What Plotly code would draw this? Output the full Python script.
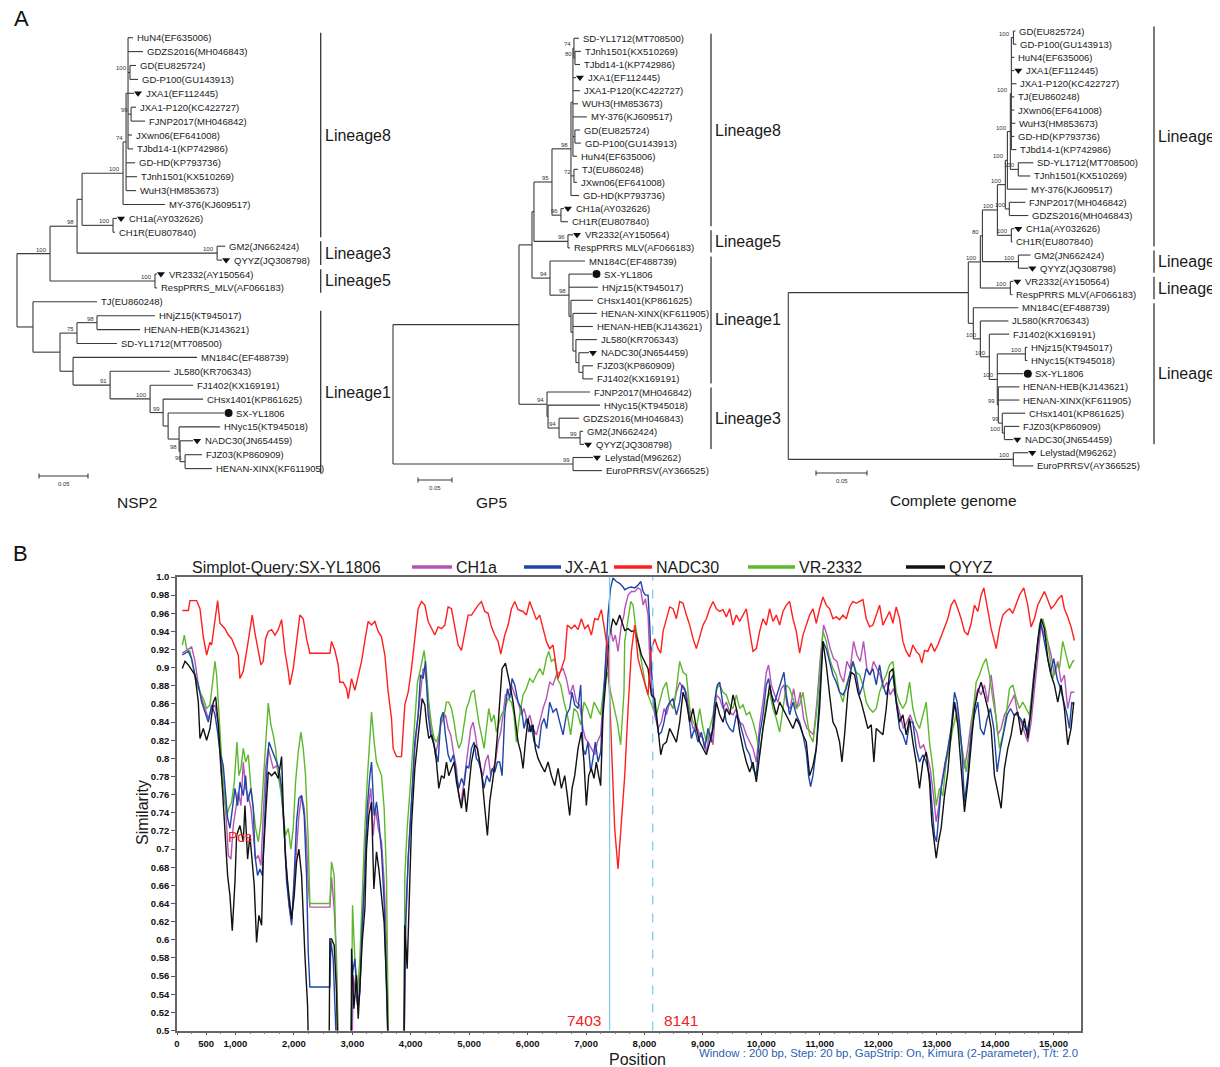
import plotly.graph_objects as go

# page body has an 8px margin: figure is shifted by OFF, so sizes/positions compensate
OFF = 8
FW, FH = 1212, 1059
FONT = "Liberation Sans, Arial, Helvetica, sans-serif"


def PX(x):
    return (x - OFF) / FW


def PY(y):
    return 1 - (y - OFF) / FH


# ======================= Panel B: similarity plot data =======================
# (position bp, similarity)
CH1A = [(91,0.916),(137,0.918),(194,0.921),(251,0.923),(308,0.907),(365,0.881),(422,0.866),(479,0.855),(536,0.844),(593,0.855),
(650,0.859),(707,0.837),(752,0.785),(792,0.763),(832,0.745),(878,0.693),(923,0.689),(963,0.726),(1003,0.745),(1049,0.763),
(1094,0.748),(1134,0.796),(1174,0.767),(1220,0.759),(1265,0.745),(1305,0.715),(1345,0.689),(1391,0.693),(1436,0.682),(1476,0.737),
(1516,0.789),(1562,0.811),(1607,0.800),(1647,0.789),(1704,0.792),(1744,0.781),(1790,0.763),(1835,0.715),(1875,0.671),(1915,0.638),
(1961,0.619),(2006,0.664),(2046,0.708),(2086,0.737),(2132,0.759),(2177,0.745),(2217,0.708),(2246,0.660),(2274,0.636),(2616,0.636),
(2645,0.669),(2690,0.634),(2730,0.579),(2770,0.45),(2990,0.45),(3015,0.561),(3055,0.542),(3101,0.524),(3146,0.579),(3186,0.634),
(3226,0.708),(3272,0.745),(3317,0.767),(3357,0.715),(3397,0.745),(3443,0.723),(3500,0.708),(3545,0.664),(3585,0.597),(3625,0.45),
(3880,0.45),(3916,0.616),(3956,0.689),(4013,0.752),(4070,0.811),(4127,0.848),(4172,0.873),(4212,0.899),(4252,0.895),(4298,0.862),
(4343,0.833),(4383,0.822),(4423,0.804),(4469,0.818),(4514,0.837),(4554,0.844),(4594,0.848),(4640,0.833),(4685,0.826),(4731,0.807),
(4782,0.789),(4822,0.759),(4856,0.748),(4896,0.767),(4936,0.789),(4982,0.811),(5027,0.833),(5067,0.840),(5107,0.826),(5153,0.804),
(5198,0.789),(5238,0.781),(5278,0.796),(5324,0.804),(5369,0.781),(5409,0.789),(5449,0.796),(5495,0.818),(5540,0.829),(5580,0.848),
(5620,0.870),(5666,0.873),(5723,0.881),(5780,0.870),(5837,0.862),(5894,0.848),(5939,0.855),(5996,0.840),(6036,0.848),(6093,0.833),
(6150,0.826),(6207,0.840),(6264,0.855),(6321,0.866),(6378,0.884),(6435,0.881),(6492,0.892),(6549,0.895),(6606,0.899),(6663,0.888),
(6720,0.870),(6777,0.881),(6834,0.862),(6891,0.859),(6948,0.833),(6988,0.822),(7034,0.818),(7091,0.811),(7148,0.804),(7193,0.818),
(7250,0.826),(7290,0.862),(7330,0.899),(7376,0.929),(7421,0.943),(7461,0.929),(7501,0.936),(7547,0.918),(7604,0.947),(7649,0.958),
(7662,0.965),(7719,0.980),(7776,0.984),(7833,0.984),(7890,0.988),(7936,0.986),(7976,0.969),(8015,0.976),(8061,0.958),(8090,0.910),
(8129,0.870),(8175,0.848),(8232,0.833),(8289,0.840),(8335,0.855),(8375,0.848),(8432,0.862),(8489,0.855),(8546,0.873),(8603,0.884),
(8660,0.877),(8717,0.873),(8774,0.848),(8831,0.833),(8888,0.837),(8945,0.826),(9002,0.822),(9059,0.807),(9116,0.829),(9173,0.815),
(9230,0.870),(9287,0.866),(9344,0.855),(9401,0.862),(9458,0.851),(9515,0.848),(9572,0.855),(9629,0.840),(9686,0.837),(9743,0.826),
(9800,0.818),(9857,0.811),(9914,0.796),(9971,0.837),(10028,0.862),(10085,0.895),(10124,0.903),(10170,0.881),(10227,0.870),(10284,0.862),
(10341,0.877),(10387,0.881),(10439,0.859),(10495,0.855),(10552,0.877),(10609,0.855),(10666,0.873),(10723,0.844),(10780,0.833),(10837,0.829),
(10894,0.826),(10951,0.862),(11008,0.910),(11065,0.947),(11122,0.936),(11179,0.921),(11236,0.910),(11293,0.907),(11350,0.892),(11407,0.884),
(11464,0.907),(11521,0.899),(11578,0.929),(11635,0.914),(11692,0.907),(11749,0.929),(11806,0.899),(11863,0.892),(11920,0.907),(11977,0.899),
(12034,0.892),(12091,0.877),(12148,0.884),(12205,0.870),(12262,0.877),(12319,0.862),(12376,0.848),(12433,0.833),(12490,0.840),(12547,0.848),
(12604,0.837),(12661,0.829),(12718,0.811),(12775,0.815),(12832,0.804),(12889,0.789),(12946,0.759),(12992,0.730),(13031,0.745),(13088,0.774),
(13145,0.796),(13202,0.811),(13259,0.837),(13305,0.862),(13362,0.848),(13419,0.818),(13476,0.789),(13533,0.811),(13590,0.840),(13647,0.862),
(13704,0.877),(13761,0.870),(13818,0.881),(13875,0.862),(13932,0.892),(13989,0.862),(14046,0.826),(14103,0.833),(14160,0.848),(14217,0.855),
(14274,0.862),(14331,0.870),(14388,0.848),(14445,0.840),(14502,0.829),(14559,0.818),(14616,0.840),(14673,0.877),(14730,0.918),(14787,0.947),
(14844,0.936),(14901,0.929),(14958,0.914),(15015,0.892),(15072,0.907),(15129,0.884),(15186,0.892),(15243,0.855),(15300,0.873),(15357,0.873)]

JXA1 = [(91,0.914),(137,0.916),(194,0.918),(251,0.910),(308,0.892),(365,0.881),(422,0.862),(479,0.851),(536,0.840),(593,0.859),
(650,0.848),(695,0.829),(735,0.807),(792,0.792),(832,0.763),(866,0.734),(906,0.723),(946,0.745),(992,0.767),(1037,0.748),
(1077,0.774),(1134,0.759),(1174,0.781),(1208,0.752),(1265,0.767),(1305,0.745),(1334,0.693),(1379,0.671),(1419,0.678),(1459,0.671),
(1493,0.723),(1533,0.781),(1573,0.818),(1619,0.811),(1664,0.804),(1704,0.796),(1744,0.789),(1790,0.767),(1835,0.723),(1875,0.664),
(1915,0.641),(1961,0.616),(2006,0.671),(2046,0.730),(2086,0.756),(2132,0.759),(2177,0.737),(2217,0.671),(2246,0.586),(2274,0.548),
(2616,0.548),(2633,0.599),(2673,0.579),(2702,0.524),(2747,0.45),(2970,0.45),(2998,0.561),(3044,0.579),(3089,0.528),(3129,0.542),
(3169,0.616),(3215,0.671),(3255,0.745),(3300,0.781),(3329,0.796),(3374,0.737),(3414,0.752),(3454,0.730),(3500,0.697),(3545,0.641),
(3585,0.561),(3625,0.45),(3880,0.45),(3910,0.616),(3956,0.689),(4013,0.756),(4070,0.818),(4127,0.848),(4166,0.892),(4212,0.888),
(4252,0.907),(4298,0.848),(4343,0.826),(4383,0.818),(4423,0.807),(4469,0.796),(4514,0.844),(4554,0.851),(4594,0.826),(4640,0.804),
(4685,0.796),(4731,0.804),(4782,0.781),(4822,0.767),(4868,0.778),(4913,0.770),(4953,0.792),(4993,0.789),(5039,0.811),(5084,0.818),
(5124,0.800),(5164,0.796),(5210,0.785),(5255,0.767),(5301,0.781),(5352,0.774),(5392,0.789),(5438,0.785),(5483,0.796),(5523,0.796),
(5563,0.781),(5609,0.848),(5654,0.877),(5694,0.866),(5734,0.888),(5780,0.881),(5837,0.862),(5894,0.855),(5939,0.833),(5979,0.844),
(6019,0.829),(6065,0.837),(6110,0.818),(6150,0.815),(6190,0.811),(6236,0.837),(6281,0.844),(6327,0.833),(6378,0.862),(6435,0.851),
(6492,0.855),(6549,0.840),(6606,0.826),(6663,0.848),(6720,0.855),(6760,0.873),(6806,0.859),(6863,0.855),(6908,0.881),(6948,0.811),
(6988,0.804),(7034,0.818),(7079,0.785),(7119,0.800),(7159,0.818),(7205,0.796),(7250,0.807),(7290,0.855),(7330,0.910),(7376,0.958),
(7421,0.988),(7461,0.999),(7518,0.995),(7575,0.993),(7632,0.989),(7662,0.986),(7719,0.988),(7776,0.989),(7833,0.988),(7890,0.991),
(7936,0.995),(7976,0.984),(8015,0.980),(8061,0.980),(8090,0.947),(8118,0.899),(8164,0.862),(8204,0.844),(8243,0.826),(8289,0.829),
(8335,0.840),(8375,0.855),(8432,0.862),(8489,0.866),(8546,0.848),(8603,0.862),(8642,0.881),(8688,0.877),(8745,0.855),(8802,0.822),
(8859,0.833),(8916,0.818),(8973,0.829),(9030,0.811),(9087,0.833),(9144,0.818),(9201,0.862),(9247,0.881),(9287,0.884),(9344,0.859),
(9401,0.840),(9458,0.833),(9515,0.829),(9572,0.848),(9629,0.840),(9686,0.826),(9743,0.811),(9800,0.804),(9857,0.789),(9914,0.781),
(9971,0.826),(10028,0.848),(10085,0.881),(10124,0.888),(10170,0.870),(10227,0.862),(10284,0.873),(10341,0.884),(10387,0.895),(10427,0.870),
(10484,0.848),(10541,0.862),(10598,0.848),(10655,0.840),(10712,0.826),(10769,0.807),(10808,0.781),(10843,0.769),(10883,0.781),(10940,0.811),
(10997,0.873),(11054,0.929),(11111,0.921),(11168,0.907),(11225,0.892),(11282,0.884),(11339,0.873),(11396,0.870),(11453,0.877),(11510,0.892),
(11567,0.907),(11624,0.892),(11681,0.870),(11738,0.881),(11795,0.899),(11852,0.892),(11909,0.899),(11966,0.881),(12023,0.903),(12080,0.881),
(12137,0.870),(12194,0.884),(12251,0.892),(12308,0.862),(12365,0.833),(12422,0.826),(12479,0.815),(12536,0.840),(12593,0.840),(12650,0.811),
(12707,0.796),(12764,0.804),(12821,0.796),(12878,0.781),(12917,0.752),(12963,0.715),(12997,0.708),(13037,0.737),(13077,0.767),(13134,0.789),
(13191,0.811),(13248,0.833),(13305,0.873),(13350,0.862),(13390,0.840),(13430,0.811),(13476,0.752),(13533,0.781),(13590,0.826),(13647,0.848),
(13704,0.862),(13749,0.833),(13807,0.826),(13864,0.844),(13920,0.855),(13978,0.833),(14035,0.785),(14092,0.811),(14149,0.829),(14206,0.848),
(14263,0.855),(14320,0.848),(14377,0.848),(14434,0.844),(14491,0.837),(14548,0.829),(14605,0.848),(14662,0.892),(14719,0.921),(14776,0.951),
(14833,0.932),(14890,0.914),(14947,0.895),(15004,0.910),(15061,0.888),(15118,0.877),(15175,0.862),(15232,0.848),(15272,0.833),(15312,0.862),
(15346,0.859)]

NADC30 = [(91,0.963),(194,0.963),(222,0.974),(336,0.974),(393,0.965),(450,0.934),(507,0.914),(564,0.928),(593,0.925),(650,0.954),
(695,0.974),(735,0.949),(821,0.943),(878,0.936),(935,0.932),(992,0.923),(1049,0.914),(1077,0.888),(1134,0.896),(1191,0.918),
(1248,0.940),(1288,0.958),(1334,0.938),(1391,0.916),(1436,0.903),(1476,0.907),(1516,0.932),(1562,0.940),(1619,0.942),(1676,0.936),
(1733,0.942),(1790,0.953),(1847,0.918),(1904,0.896),(1932,0.881),(1989,0.899),(2046,0.929),(2103,0.958),(2160,0.954),(2217,0.932),
(2274,0.916),(2616,0.916),(2645,0.929),(2702,0.919),(2759,0.903),(2787,0.884),(2844,0.884),(2901,0.877),(2930,0.866),(2987,0.888),
(3044,0.875),(3101,0.892),(3158,0.907),(3215,0.930),(3272,0.951),(3329,0.947),(3386,0.951),(3443,0.940),(3500,0.934),(3557,0.914),
(3614,0.873),(3671,0.844),(3699,0.811),(3756,0.802),(3842,0.802),(3899,0.859),(3956,0.873),(4013,0.899),(4070,0.932),(4127,0.965),
(4184,0.973),(4241,0.969),(4298,0.951),(4355,0.943),(4412,0.936),(4469,0.945),(4526,0.943),(4583,0.947),(4640,0.967),(4697,0.965),
(4754,0.943),(4811,0.925),(4868,0.919),(4925,0.940),(4982,0.958),(5039,0.958),(5096,0.964),(5153,0.969),(5210,0.973),(5267,0.962),
(5324,0.960),(5381,0.945),(5438,0.936),(5495,0.929),(5540,0.915),(5609,0.936),(5666,0.947),(5723,0.965),(5780,0.973),(5837,0.964),
(5922,0.962),(5979,0.958),(6036,0.973),(6093,0.962),(6150,0.953),(6207,0.958),(6264,0.943),(6321,0.929),(6378,0.921),(6435,0.925),
(6475,0.907),(6521,0.888),(6578,0.899),(6635,0.910),(6680,0.947),(6749,0.943),(6806,0.947),(6863,0.942),(6920,0.954),(6977,0.943),
(7034,0.947),(7091,0.936),(7148,0.954),(7205,0.953),(7262,0.964),(7307,0.947),(7376,0.918),(7433,0.818),(7490,0.723),(7547,0.678),
(7604,0.726),(7662,0.781),(7719,0.855),(7776,0.918),(7833,0.947),(7890,0.910),(7947,0.896),(8004,0.884),(8061,0.870),(8107,0.918),
(8147,0.925),(8175,0.932),(8232,0.921),(8278,0.916),(8318,0.940),(8375,0.954),(8432,0.967),(8489,0.965),(8546,0.954),(8603,0.973),
(8660,0.971),(8717,0.958),(8774,0.947),(8831,0.932),(8888,0.921),(8945,0.934),(9002,0.947),(9059,0.954),(9116,0.965),(9173,0.973),
(9230,0.965),(9287,0.962),(9344,0.964),(9401,0.956),(9458,0.965),(9515,0.947),(9572,0.958),(9629,0.951),(9686,0.958),(9743,0.965),
(9800,0.940),(9857,0.918),(9914,0.921),(9971,0.940),(10028,0.954),(10085,0.947),(10142,0.965),(10199,0.951),(10256,0.958),(10313,0.947),
(10370,0.962),(10427,0.969),(10484,0.973),(10541,0.954),(10598,0.940),(10655,0.916),(10712,0.936),(10769,0.947),(10826,0.958),(10883,0.965),
(10940,0.949),(10997,0.965),(11054,0.978),(11111,0.969),(11168,0.965),(11225,0.954),(11282,0.956),(11339,0.953),(11396,0.958),(11453,0.954),
(11510,0.967),(11567,0.973),(11624,0.971),(11681,0.973),(11738,0.975),(11795,0.954),(11852,0.945),(11909,0.947),(11966,0.958),(12023,0.969),
(12080,0.947),(12137,0.954),(12194,0.962),(12251,0.949),(12308,0.967),(12365,0.954),(12422,0.929),(12479,0.918),(12536,0.912),(12593,0.925),
(12650,0.918),(12707,0.914),(12746,0.905),(12792,0.919),(12849,0.918),(12906,0.927),(12963,0.918),(13020,0.925),(13077,0.934),(13134,0.945),
(13191,0.954),(13248,0.969),(13305,0.975),(13362,0.965),(13419,0.954),(13476,0.940),(13533,0.936),(13590,0.949),(13647,0.969),(13704,0.962),
(13761,0.980),(13807,0.988),(13864,0.969),(13932,0.943),(13989,0.929),(14018,0.921),(14075,0.943),(14132,0.958),(14189,0.962),(14246,0.965),
(14303,0.960),(14360,0.969),(14417,0.980),(14491,0.988),(14559,0.969),(14616,0.945),(14673,0.954),(14730,0.969),(14787,0.976),(14844,0.984),
(14901,0.975),(14958,0.965),(15015,0.969),(15072,0.975),(15140,0.980),(15186,0.965),(15243,0.956),(15300,0.945),(15357,0.930)]

VR2332 = [(91,0.925),(125,0.936),(165,0.921),(222,0.918),(279,0.899),(336,0.881),(393,0.873),(450,0.866),(507,0.855),(564,0.859),
(604,0.881),(650,0.907),(678,0.892),(718,0.848),(764,0.800),(809,0.763),(849,0.737),(889,0.745),(935,0.752),(980,0.774),
(1026,0.818),(1060,0.781),(1094,0.789),(1134,0.811),(1174,0.796),(1220,0.804),(1265,0.767),(1305,0.745),(1345,0.723),(1391,0.708),
(1436,0.730),(1476,0.774),(1516,0.811),(1562,0.861),(1607,0.837),(1647,0.826),(1687,0.811),(1733,0.781),(1778,0.763),(1818,0.737),
(1858,0.715),(1904,0.723),(1949,0.700),(1989,0.723),(2029,0.774),(2075,0.807),(2120,0.829),(2160,0.811),(2200,0.781),(2246,0.708),
(2274,0.640),(2616,0.640),(2645,0.686),(2690,0.671),(2730,0.579),(2770,0.45),(2975,0.45),(3004,0.638),(3044,0.579),(3089,0.542),
(3129,0.579),(3169,0.652),(3215,0.723),(3260,0.781),(3300,0.818),(3329,0.851),(3374,0.818),(3414,0.796),(3454,0.789),(3500,0.781),
(3545,0.745),(3585,0.671),(3625,0.45),(3880,0.45),(3899,0.671),(3939,0.723),(3985,0.763),(4024,0.800),(4070,0.837),(4115,0.884),
(4155,0.895),(4195,0.907),(4229,0.919),(4269,0.895),(4309,0.862),(4355,0.837),(4400,0.822),(4440,0.818),(4480,0.826),(4526,0.844),
(4571,0.848),(4611,0.862),(4651,0.862),(4697,0.855),(4742,0.840),(4782,0.822),(4822,0.811),(4868,0.818),(4913,0.840),(4953,0.855),
(4993,0.862),(5039,0.873),(5084,0.875),(5124,0.855),(5164,0.840),(5210,0.826),(5255,0.811),(5295,0.833),(5335,0.855),(5381,0.840),
(5426,0.848),(5466,0.829),(5506,0.837),(5552,0.848),(5609,0.855),(5666,0.866),(5723,0.862),(5768,0.848),(5808,0.818),(5865,0.848),
(5922,0.870),(5979,0.877),(6036,0.888),(6093,0.884),(6150,0.892),(6207,0.899),(6264,0.892),(6321,0.910),(6361,0.918),(6407,0.907),
(6464,0.910),(6509,0.888),(6566,0.881),(6623,0.862),(6680,0.848),(6737,0.826),(6794,0.855),(6851,0.851),(6908,0.837),(6965,0.862),
(7022,0.855),(7079,0.844),(7136,0.862),(7193,0.855),(7250,0.848),(7307,0.881),(7364,0.895),(7421,0.873),(7478,0.855),(7535,0.840),
(7592,0.815),(7649,0.873),(7662,0.929),(7719,0.954),(7765,0.973),(7805,0.969),(7844,0.947),(7890,0.929),(7936,0.910),(7976,0.892),
(8015,0.881),(8061,0.870),(8107,0.862),(8147,0.855),(8204,0.848),(8261,0.862),(8318,0.877),(8375,0.884),(8432,0.862),(8489,0.855),
(8546,0.877),(8603,0.907),(8660,0.895),(8717,0.892),(8774,0.855),(8831,0.840),(8888,0.833),(8945,0.855),(9002,0.833),(9059,0.818),
(9116,0.833),(9173,0.848),(9230,0.877),(9287,0.881),(9344,0.873),(9401,0.870),(9458,0.859),(9515,0.855),(9572,0.870),(9629,0.855),
(9686,0.859),(9743,0.848),(9800,0.851),(9857,0.840),(9914,0.826),(9971,0.804),(10028,0.833),(10085,0.862),(10142,0.873),(10199,0.855),
(10256,0.844),(10313,0.829),(10370,0.855),(10427,0.881),(10484,0.877),(10541,0.866),(10598,0.855),(10655,0.859),(10712,0.873),(10769,0.848),
(10826,0.826),(10883,0.818),(10940,0.848),(10997,0.892),(11054,0.940),(11111,0.929),(11168,0.910),(11225,0.899),(11282,0.892),(11339,0.873),
(11396,0.862),(11453,0.881),(11510,0.892),(11567,0.907),(11624,0.895),(11681,0.892),(11738,0.881),(11795,0.862),(11852,0.855),(11909,0.851),
(11966,0.855),(12023,0.873),(12080,0.884),(12137,0.892),(12194,0.903),(12251,0.907),(12308,0.873),(12365,0.862),(12422,0.855),(12479,0.862),
(12536,0.884),(12593,0.855),(12650,0.840),(12707,0.833),(12764,0.848),(12821,0.862),(12878,0.818),(12935,0.789),(12992,0.748),(13048,0.767),
(13105,0.759),(13162,0.796),(13219,0.811),(13276,0.833),(13333,0.848),(13390,0.826),(13447,0.804),(13504,0.785),(13561,0.811),(13618,0.848),
(13675,0.884),(13732,0.892),(13789,0.903),(13846,0.910),(13903,0.892),(13960,0.866),(14018,0.844),(14075,0.811),(14132,0.826),(14189,0.848),
(14246,0.877),(14303,0.881),(14360,0.866),(14417,0.855),(14474,0.862),(14531,0.855),(14588,0.848),(14645,0.881),(14702,0.914),(14759,0.947),
(14816,0.954),(14873,0.940),(14930,0.914),(14987,0.888),(15044,0.903),(15101,0.899),(15158,0.929),(15215,0.914),(15272,0.899),(15329,0.907),
(15357,0.908)]

QYYZ = [(91,0.899),(137,0.907),(194,0.903),(251,0.897),(308,0.892),(365,0.862),(393,0.822),(450,0.833),(507,0.820),(564,0.833),
(621,0.862),(661,0.868),(707,0.837),(764,0.781),(821,0.715),(866,0.671),(906,0.649),(946,0.610),(992,0.664),(1020,0.715),
(1077,0.726),(1134,0.708),(1163,0.748),(1208,0.689),(1248,0.715),(1288,0.682),(1322,0.660),(1362,0.597),(1402,0.627),(1448,0.616),
(1476,0.689),(1516,0.737),(1562,0.785),(1619,0.781),(1676,0.785),(1733,0.778),(1790,0.802),(1818,0.745),(1858,0.689),(1904,0.656),
(1961,0.623),(2006,0.649),(2046,0.686),(2086,0.700),(2132,0.671),(2189,0.583),(2234,0.528),(2260,0.45),(2600,0.45),(2616,0.601),
(2645,0.601),(2690,0.594),(2730,0.542),(2759,0.45),(2980,0.45),(2987,0.590),(3027,0.524),(3072,0.561),(3101,0.513),(3129,0.546),
(3169,0.597),(3215,0.634),(3243,0.700),(3283,0.737),(3329,0.752),(3369,0.656),(3414,0.697),(3454,0.678),(3500,0.649),(3545,0.619),
(3591,0.542),(3625,0.45),(3880,0.45),(3899,0.616),(3939,0.568),(3973,0.652),(4013,0.726),(4070,0.789),(4115,0.818),(4155,0.848),
(4195,0.866),(4241,0.859),(4269,0.840),(4309,0.822),(4355,0.826),(4400,0.815),(4440,0.796),(4480,0.767),(4526,0.781),(4571,0.778),
(4611,0.796),(4651,0.781),(4697,0.789),(4742,0.796),(4782,0.774),(4822,0.759),(4868,0.745),(4913,0.767),(4953,0.741),(4993,0.767),
(5039,0.796),(5096,0.815),(5141,0.811),(5181,0.796),(5221,0.778),(5267,0.745),(5312,0.715),(5352,0.752),(5392,0.770),(5438,0.792),
(5483,0.826),(5523,0.866),(5563,0.899),(5620,0.905),(5666,0.892),(5711,0.877),(5751,0.862),(5791,0.844),(5837,0.818),(5882,0.807),
(5922,0.789),(5962,0.818),(6008,0.844),(6053,0.829),(6093,0.837),(6133,0.811),(6179,0.800),(6236,0.792),(6293,0.785),(6350,0.796),
(6407,0.781),(6464,0.770),(6521,0.789),(6578,0.767),(6635,0.781),(6680,0.759),(6720,0.737),(6760,0.767),(6806,0.781),(6863,0.811),
(6920,0.829),(6965,0.796),(7005,0.748),(7045,0.781),(7091,0.789),(7136,0.778),(7176,0.796),(7216,0.781),(7250,0.770),(7290,0.848),
(7347,0.892),(7404,0.936),(7461,0.954),(7518,0.947),(7575,0.958),(7632,0.947),(7662,0.941),(7719,0.943),(7776,0.940),(7833,0.941),
(7890,0.929),(7947,0.914),(8004,0.907),(8061,0.899),(8118,0.870),(8175,0.866),(8232,0.833),(8278,0.804),(8318,0.815),(8375,0.818),
(8432,0.833),(8489,0.826),(8546,0.818),(8603,0.840),(8660,0.873),(8717,0.862),(8774,0.840),(8831,0.855),(8888,0.833),(8945,0.818),
(9002,0.811),(9059,0.804),(9116,0.818),(9173,0.833),(9230,0.862),(9287,0.848),(9344,0.840),(9401,0.855),(9458,0.848),(9515,0.870),
(9572,0.855),(9629,0.829),(9686,0.811),(9743,0.796),(9800,0.785),(9857,0.796),(9914,0.774),(9971,0.804),(10028,0.833),(10085,0.855),
(10142,0.881),(10199,0.862),(10256,0.848),(10313,0.862),(10370,0.855),(10427,0.848),(10484,0.840),(10541,0.833),(10598,0.844),(10655,0.837),
(10712,0.826),(10769,0.818),(10826,0.781),(10883,0.792),(10940,0.811),(10997,0.855),(11054,0.929),(11111,0.903),(11168,0.870),(11225,0.840),
(11282,0.833),(11339,0.818),(11379,0.796),(11424,0.826),(11481,0.873),(11538,0.895),(11595,0.892),(11652,0.873),(11709,0.862),(11766,0.848),
(11823,0.833),(11880,0.837),(11926,0.796),(11966,0.833),(12023,0.829),(12080,0.826),(12137,0.855),(12194,0.895),(12251,0.899),(12308,0.862),
(12365,0.840),(12422,0.848),(12479,0.826),(12536,0.844),(12593,0.818),(12650,0.796),(12707,0.767),(12764,0.796),(12821,0.807),(12878,0.774),
(12917,0.730),(12963,0.708),(12992,0.690),(13031,0.708),(13077,0.723),(13134,0.759),(13191,0.785),(13248,0.829),(13305,0.862),(13362,0.837),
(13419,0.789),(13476,0.741),(13533,0.774),(13590,0.811),(13647,0.855),(13704,0.873),(13761,0.884),(13818,0.870),(13875,0.855),(13932,0.833),
(13989,0.781),(14046,0.763),(14103,0.745),(14160,0.789),(14217,0.811),(14274,0.826),(14331,0.848),(14388,0.851),(14445,0.826),(14502,0.844),
(14559,0.822),(14616,0.855),(14673,0.892),(14730,0.929),(14787,0.954),(14844,0.943),(14901,0.910),(14958,0.892),(15015,0.881),(15072,0.862),
(15129,0.881),(15186,0.855),(15243,0.815),(15300,0.833),(15346,0.862)]

SERIES = [("CH1a", CH1A, "#b653b8"), ("VR-2332", VR2332, "#5cb82c"), ("JX-A1", JXA1, "#1f45a8"),
          ("QYYZ", QYYZ, "#111111"), ("NADC30", NADC30, "#ff1f1f")]
BREAKPOINTS = [7403, 8141]
Y_TICKVALS = [0.5, 0.52, 0.54, 0.56, 0.58, 0.6, 0.62, 0.64, 0.66, 0.68, 0.7, 0.72, 0.74, 0.76, 0.78,
              0.8, 0.82, 0.84, 0.86, 0.88, 0.9, 0.92, 0.94, 0.96, 0.98, 1.0]
Y_TICKTEXT = ["0.5", "0.52", "0.54", "0.56", "0.58", "0.6", "0.62", "0.64", "0.66", "0.68", "0.7", "0.72", "0.74",
              "0.76", "0.78", "0.8", "0.82", "0.84", "0.86", "0.88", "0.9", "0.92", "0.94", "0.96", "0.98", "1.0"]
X_TICKVALS = [0, 500, 1000, 2000, 3000, 4000, 5000, 6000, 7000, 8000, 9000, 10000, 11000, 12000, 13000, 14000, 15000]
X_TICKTEXT = ["0", "500", "1,000", "2,000", "3,000", "4,000", "5,000", "6,000", "7,000", "8,000", "9,000",
              "10,000", "11,000", "12,000", "13,000", "14,000", "15,000"]

# ======================= Panel A: trees (branch lengths, substitutions/site) =======================
def L(name, length, mark=""):
    return {"name": name, "len": length, "mark": mark, "kids": None, "bs": ""}


def N(length, bs, *kids):
    return {"name": "", "len": length, "mark": "", "kids": list(kids), "bs": bs}


# ---- NSP2 ----
NSP2_L8_CORE = N(0.0020, "",
                 L("HuN4(EF635006)", 0.0051),
                 L("GDZS2016(MH046843)", 0.0153),
                 N(0.0020, "100", L("GD(EU825724)", 0.0061), L("GD-P100(GU143913)", 0.0082)),
                 L("JXA1(EF112445)", 0.0061, "tri"),
                 N(0.0031, "99", L("JXA1-P120(KC422727)", 0.0051), L("FJNP2017(MH046842)", 0.0143)),
                 L("JXwn06(EF641008)", 0.0041),
                 L("TJbd14-1(KP742986)", 0.0051))
NSP2_L8_74 = N(0.0031, "74", NSP2_L8_CORE,
               L("GD-HD(KP793736)", 0.0092),
               L("TJnh1501(KX510269)", 0.0112),
               L("WuH3(HM853673)", 0.0102))
NSP2_L8 = N(0.0418, "100", NSP2_L8_74, L("MY-376(KJ609517)", 0.0429))
NSP2_CH1 = N(0.0316, "100", L("CH1a(AY032626)", 0.0041, "tri"), L("CH1R(EU807840)", 0.0020))
NSP2_L3 = N(0.1429, "100", L("GM2(JN662424)", 0.0082), L("QYYZ(JQ308798)", 0.0051, "tri"))
NSP2_L5 = N(0.1071, "100", L("VR2332(AY150564)", 0.0020, "tri"), L("RespPRRS_MLV(AF066183)", 0.0020))
NSP2_98 = N(0.0276, "98", N(0.0051, "", NSP2_L8, NSP2_CH1), NSP2_L3)
NSP2_UPPER = N(0.0337, "100", NSP2_98, NSP2_L5)
NSP2_96 = N(0.0051, "96", L("FJZ03(KP860909)", 0.0173), L("HENAN-XINX(KF611905)", 0.0276))
NSP2_98B = N(0.0010, "98", L("NADC30(JN654459)", 0.0133, "tri"), NSP2_96)
NSP2_SX = N(0.0051, "", L("SX-YL1806", 0.0571, "dot"), N(0.0112, "", L("HNyc15(KT945018)", 0.0418), NSP2_98B))
NSP2_99 = N(0.0133, "99", L("CHsx1401(KP861625)", 0.0408), NSP2_SX)
NSP2_100 = N(0.0408, "100", L("FJ1402(KX169191)", 0.0439), NSP2_99)
NSP2_91 = N(0.0378, "91", L("JL580(KR706343)", 0.0612), NSP2_100)
NSP2_M = N(0.0133, "", L("MN184C(EF488739)", 0.1265), NSP2_91)
NSP2_75 = N(0.0173, "75",
            N(0.0204, "98", L("HNjZ15(KT945017)", 0.0592), L("HENAN-HEB(KJ143621)", 0.0439)),
            L("SD-YL1712(MT708500)", 0.0408))
NSP2_LOWER = N(0.0163, "", L("TJ(EU860248)", 0.0653), N(0.0276, "", NSP2_75, NSP2_M))
NSP2_TREE = N(0, "", NSP2_UPPER, NSP2_LOWER)

# ---- GP5 ----
GP5_L8_CORE = N(0.0029, "",
                N(0.0015, "74", L("SD-YL1712(MT708500)", 0.0074),
                  N(0.0015, "80", L("TJnh1501(KX510269)", 0.0088), L("TJbd14-1(KP742986)", 0.0074))),
                L("JXA1(EF112445)", 0.0044, "tri"),
                L("JXA1-P120(KC422727)", 0.0103),
                L("WUH3(HM853673)", 0.0074),
                L("MY-376(KJ609517)", 0.0206),
                N(0.0029, "", L("GD(EU825724)", 0.0074), L("GD-P100(GU143913)", 0.0088)),
                L("HuN4(EF635006)", 0.0059))
GP5_L8 = N(0.0279, "98", GP5_L8_CORE,
           N(0.0044, "72", L("TJ(EU860248)", 0.0059), L("JXwn06(EF641008)", 0.0044)),
           L("GD-HD(KP793736)", 0.0118))
GP5_CH1 = N(0.0132, "96", L("CH1a(AY032626)", 0.0044, "tri"), L("CH1R(EU807840)", 0.0103))
GP5_L5 = N(0.0500, "96", L("VR2332(AY150564)", 0.0074, "tri"), L("RespPRRS MLV(AF066183)", 0.0029))
GP5_Q = N(0.0029, "", N(0.0265, "95", GP5_L8, GP5_CH1), GP5_L5)
GP5_NADC = N(0.0044, "", L("JL580(KR706343)", 0.0309),
             N(0.0044, "", L("NADC30(JN654459)", 0.0147, "tri"),
               N(0.0059, "", L("FJZ03(KP860909)", 0.0147), L("FJ1402(KX169191)", 0.0147))))
GP5_X2 = N(0.0029, "", L("HENAN-XINX(KF611905)", 0.0353), L("HENAN-HEB(KJ143621)", 0.0294), GP5_NADC)
GP5_98 = N(0.0279, "98", L("SX-YL1806", 0.0338, "dot"), L("HNjz15(KT945017)", 0.0426),
           N(0.0029, "", L("CHsx1401(KP861625)", 0.0324), GP5_X2))
GP5_L1 = N(0.0265, "94", L("MN184C(EF488739)", 0.0515), GP5_98)
GP5_94 = N(0.0162, "94", L("GDZS2016(MH046843)", 0.0294),
           N(0.0309, "99", L("GM2(JN662424)", 0.0044), L("QYYZ(JQ308798)", 0.0059, "tri")))
GP5_L3 = N(0.0412, "94", L("FJNP2017(MH046842)", 0.0632),
           N(0.0015, "", L("HNyc15(KT945018)", 0.0765), GP5_94))
GP5_EURO = N(0.2647, "99", L("Lelystad(M96262)", 0.0294, "tri"), L("EuroPRRSV(AY366525)", 0.0426))
GP5_TREE = N(0, "", N(0.1853, "", N(0.0191, "", GP5_Q, GP5_L1), GP5_L3), GP5_EURO)

# ---- Complete genome ----
CG_CORE = N(0.0010, "100",
            N(0.0020, "100", L("GD(EU825724)", 0.0020), L("GD-P100(GU143913)", 0.0029)),
            L("HuN4(EF635006)", 0.0029),
            L("JXA1(EF112445)", 0.0029, "tri"),
            L("JXA1-P120(KC422727)", 0.0049),
            L("TJ(EU860248)", 0.0029),
            L("JXwn06(EF641008)", 0.0029),
            L("WuH3(HM853673)", 0.0039),
            L("GD-HD(KP793736)", 0.0029),
            L("TJbd14-1(KP742986)", 0.0049))
CG_ST = N(0.0078, "100", L("SD-YL1712(MT708500)", 0.0147), L("TJnh1501(KX510269)", 0.0118))
CG_N1 = N(0.0020, "100", N(0.0029, "100", CG_CORE, CG_ST), L("MY-376(KJ609517)", 0.0196))
CG_FG = N(0.0039, "100", L("FJNP2017(MH046842)", 0.0157), L("GDZS2016(MH046843)", 0.0186))
CG_L8 = N(0.0078, "100", CG_N1, CG_FG)
CG_CH1 = N(0.0137, "100", L("CH1a(AY032626)", 0.0029, "tri"), L("CH1R(EU807840)", 0.0010))
CG_L3 = N(0.0353, "100", L("GM2(JN662424)", 0.0118), L("QYYZ(JQ308798)", 0.0098, "tri"))
CG_L5 = N(0.0294, "100", L("VR2332(AY150564)", 0.0029, "tri"), L("RespPRRS MLV(AF066183)", 0.0020))
CG_UPPER = N(0.0118, "100", N(0.0020, "80", N(0.0147, "100", CG_L8, CG_CH1), CG_L3), CG_L5)
CG_99B = N(0.0039, "99", L("CHsx1401(KP861625)", 0.0225),
           N(0.0020, "100", L("FJZ03(KP860909)", 0.0147), L("NADC30(JN654459)", 0.0088, "tri")))
CG_99 = N(0.0010, "99", L("HENAN-HEB(KJ143621)", 0.0206), L("HENAN-XINX(KF611905)", 0.0206), CG_99B)
CG_M = N(0.0078, "100",
         N(0.0275, "100", L("HNjz15(KT945017)", 0.0020), L("HNyc15(KT945018)", 0.0020)),
         L("SX-YL1806", 0.0255, "dot"),
         CG_99)
CG_L1 = N(0.0049, "", L("MN184C(EF488739)", 0.0441),
          N(0.0069, "100", L("JL580(KR706343)", 0.0275),
            N(0.0088, "100", L("FJ1402(KX169191)", 0.0196), CG_M)))
CG_EURO = N(0.2206, "100", L("Lelystad(M96262)", 0.0147, "tri"), L("EuroPRRSV(AY366525)", 0.0196))
GENOME_TREE = N(0, "", N(0.1765, "", CG_UPPER, CG_L1), CG_EURO)

SCALE_LEN = 0.05

# layout settings for each tree (pixel geometry of the page)
TREES = [
    dict(tree=NSP2_TREE, n="2", dom=(0, 390), root=17.0, ppu=980.0, y0=37.7, dy=13.9,
         title="NSP2", title_xy=(137, 503),
         lineages=[("Lineage8", 0, 14), ("Lineage3", 15, 16), ("Lineage5", 17, 18), ("Lineage1", 20, 31)],
         bar=320.7, scalebar=(39, 476)),
    dict(tree=GP5_TREE, n="3", dom=(390, 780), root=393.0, ppu=680.0, y0=38.3, dy=13.1,
         title="GP5", title_xy=(491, 503),
         lineages=[("Lineage8", 0, 14), ("Lineage5", 15, 16), ("Lineage1", 17, 26), ("Lineage3", 27, 31)],
         bar=711.0, scalebar=(418, 480)),
    dict(tree=GENOME_TREE, n="4", dom=(780, 1220), root=788.3, ppu=1020.0, y0=31.0, dy=13.18,
         title="Complete genome", title_xy=(953, 500),
         lineages=[("Lineage8", 0, 16), ("Lineage3", 17, 18), ("Lineage5", 19, 20), ("Lineage1", 21, 31)],
         bar=1154.0, scalebar=(816, 473)),
]


def layout_tree(tree):
    lx, ly, leaves, boots = [], [], [], []
    count = [0]

    def rec(nd, px):
        x = px + nd["len"]
        if nd["kids"] is None:
            y = float(count[0])
            count[0] += 1
            leaves.append((x, y, nd["name"], nd["mark"]))
        else:
            ys = [rec(k, x) for k in nd["kids"]]
            y = (ys[0] + ys[-1]) / 2.0
            lx.extend([x, x, None])
            ly.extend([ys[0], ys[-1], None])
            if nd["bs"]:
                boots.append((x, y, nd["bs"]))
        if nd["len"] > 0:
            lx.extend([px, x, None])
            ly.extend([y, y, None])
        return y

    rec(tree, 0.0)
    return lx, ly, leaves, boots


fig = go.Figure()
annotations = []
shapes = []
TREE_COL = "#3a3a3a"
TXT_COL = "#1a1a1a"

for cfg in TREES:
    n = cfg["n"]
    xa, ya = "x" + n, "y" + n
    ppu, root, y0, dy = cfg["ppu"], cfg["root"], cfg["y0"], cfg["dy"]
    lx, ly, leaves, boots = layout_tree(cfg["tree"])
    fig.add_trace(go.Scatter(x=lx, y=ly, mode="lines", line=dict(color=TREE_COL, width=1.1),
                             xaxis=xa, yaxis=ya, hoverinfo="skip", showlegend=False))
    tri = [(x + 4.0 / ppu, y) for x, y, nm, mk in leaves if mk == "tri"]
    dot = [(x + 4.5 / ppu, y) for x, y, nm, mk in leaves if mk == "dot"]
    fig.add_trace(go.Scatter(x=[p[0] for p in tri], y=[p[1] for p in tri], mode="markers",
                             marker=dict(symbol="triangle-down", size=7, color="#111"),
                             xaxis=xa, yaxis=ya, hoverinfo="skip", showlegend=False, cliponaxis=False))
    fig.add_trace(go.Scatter(x=[p[0] for p in dot], y=[p[1] for p in dot], mode="markers",
                             marker=dict(symbol="circle", size=8, color="#111"),
                             xaxis=xa, yaxis=ya, hoverinfo="skip", showlegend=False, cliponaxis=False))
    for x, y, nm, mk in leaves:
        annotations.append(dict(x=x, y=y, xref=xa, yref=ya, text=nm, showarrow=False,
                                xanchor="left", yanchor="middle", xshift=(10 if mk else 2),
                                font=dict(family=FONT, size=9.5, color=TXT_COL)))
    for x, y, bs in boots:
        annotations.append(dict(x=x, y=y, xref=xa, yref=ya, text=bs, showarrow=False,
                                xanchor="right", yanchor="bottom", xshift=-1, yshift=-1,
                                font=dict(family=FONT, size=6, color="#333")))
    # lineage bars
    bx = (cfg["bar"] - root) / ppu
    for lab, a, b in cfg["lineages"]:
        shapes.append(dict(type="line", xref=xa, yref=ya, x0=bx, x1=bx, y0=a - 0.35, y1=b + 0.35,
                           line=dict(color="#333", width=1.3)))
        annotations.append(dict(x=bx, y=(a + b) / 2.0, xref=xa, yref=ya, text=lab, showarrow=False,
                                xanchor="left", yanchor="middle", xshift=2,
                                font=dict(family=FONT, size=16, color=TXT_COL)))
    # scale bar
    sx = (cfg["scalebar"][0] - root) / ppu
    sy = (cfg["scalebar"][1] - y0) / dy
    tk = 2.5 / dy
    fig.add_trace(go.Scatter(x=[sx, sx + SCALE_LEN, None, sx, sx, None, sx + SCALE_LEN, sx + SCALE_LEN],
                             y=[sy, sy, None, sy - tk, sy + tk, None, sy - tk, sy + tk],
                             mode="lines", line=dict(color=TREE_COL, width=1.1),
                             xaxis=xa, yaxis=ya, hoverinfo="skip", showlegend=False))
    annotations.append(dict(x=sx + SCALE_LEN / 2, y=sy, xref=xa, yref=ya, text=str(SCALE_LEN), showarrow=False,
                            xanchor="center", yanchor="top", yshift=-3,
                            font=dict(family=FONT, size=6, color="#333")))
    # title
    annotations.append(dict(x=PX(cfg["title_xy"][0]), y=PY(cfg["title_xy"][1]), xref="paper", yref="paper",
                            text=cfg["title"], showarrow=False, xanchor="center", yanchor="middle",
                            font=dict(family=FONT, size=15.5, color=TXT_COL)))
    d0, d1 = max(cfg["dom"][0], OFF), min(cfg["dom"][1], OFF + FW)
    fig.layout["xaxis" + n] = dict(domain=[PX(d0), PX(d1)], range=[(d0 - root) / ppu, (d1 - root) / ppu],
                                   anchor=ya, visible=False, showgrid=False, zeroline=False)
    fig.layout["yaxis" + n] = dict(domain=[PY(510.0), PY(OFF)], range=[(510.0 - y0) / dy, (OFF - y0) / dy],
                                   anchor=xa, visible=False, showgrid=False, zeroline=False)

# ======================= Panel B traces =======================
for name, data, col in SERIES:
    fig.add_trace(go.Scatter(x=[p for p, s in data], y=[s for p, s in data], mode="lines", name=name,
                             line=dict(color=col, width=1.4), xaxis="x", yaxis="y", showlegend=False))

for i, bp in enumerate(BREAKPOINTS):
    shapes.append(dict(type="line", xref="x", yref="y domain", x0=bp, x1=bp, y0=0, y1=1,
                       line=dict(color="#86cbe6", width=1.3, dash=("solid" if i == 0 else "dash"))))
annotations.append(dict(x=BREAKPOINTS[0], y=0.511, xref="x", yref="y", text=str(BREAKPOINTS[0]), showarrow=False,
                        xanchor="right", yanchor="middle", xshift=-7, font=dict(family=FONT, size=15.5, color="#ee2222")))
annotations.append(dict(x=BREAKPOINTS[1], y=0.511, xref="x", yref="y", text=str(BREAKPOINTS[1]), showarrow=False,
                        xanchor="left", yanchor="middle", xshift=9, font=dict(family=FONT, size=15.5, color="#ee2222")))
annotations.append(dict(x=840, y=0.713, xref="x", yref="y", text="Pos", showarrow=False,
                        xanchor="left", yanchor="middle", font=dict(family=FONT, size=14, color="#ee2222")))

# legend row (manual, as in the reference)
LEG_Y = PY(567.0)
annotations.append(dict(x=PX(190), y=LEG_Y, xref="paper", yref="paper", text="Simplot-Query:SX-YL1806",
                        showarrow=False, xanchor="left", yanchor="middle",
                        font=dict(family=FONT, size=16, color=TXT_COL)))
LEG_POS = {"CH1a": (412, 452), "JX-A1": (524, 561), "NADC30": (614, 652), "VR-2332": (748, 795), "QYYZ": (906, 945)}
for name, data, col in SERIES:
    a, b = LEG_POS[name]
    shapes.append(dict(type="line", xref="paper", yref="paper", x0=PX(a), x1=PX(b), y0=LEG_Y, y1=LEG_Y,
                       line=dict(color=col, width=3.5)))
    annotations.append(dict(x=PX(b + 2), y=LEG_Y, xref="paper", yref="paper", text=name, showarrow=False,
                            xanchor="left", yanchor="middle", font=dict(family=FONT, size=16, color=TXT_COL)))

annotations.append(dict(x=PX(142), y=PY(813.0), xref="paper", yref="paper", text="Similarity", showarrow=False,
                        textangle=-90, xanchor="center", yanchor="middle", font=dict(family=FONT, size=16, color=TXT_COL)))
annotations.append(dict(x=PX(637), y=PY(1059.0), xref="paper", yref="paper", text="Position", showarrow=False,
                        xanchor="center", yanchor="middle", font=dict(family=FONT, size=16, color=TXT_COL)))
annotations.append(dict(x=PX(697), y=PY(1053.0), xref="paper", yref="paper",
                        text="Window : 200 bp, Step: 20 bp, GapStrip: On, Kimura (2-parameter), T/t: 2.0",
                        showarrow=False, xanchor="left", yanchor="middle",
                        font=dict(family=FONT, size=11.4, color="#2b5fb8")))
annotations.append(dict(x=PX(21), y=PY(19.0), xref="paper", yref="paper", text="A", showarrow=False,
                        xanchor="center", yanchor="middle", font=dict(family=FONT, size=22, color="#111")))
annotations.append(dict(x=PX(20), y=PY(553.0), xref="paper", yref="paper", text="B", showarrow=False,
                        xanchor="center", yanchor="middle", font=dict(family=FONT, size=22, color="#111")))

TICKFONT = dict(family=FONT, size=9.5, color="#111", weight="bold")
fig.update_layout(
    width=FW, height=FH, margin=dict(l=0, r=0, t=0, b=0), autosize=False,
    paper_bgcolor="white", plot_bgcolor="rgba(0,0,0,0)", template="none", showlegend=False,
    font=dict(family=FONT, color=TXT_COL),
    xaxis=dict(domain=[PX(177), PX(1081)], range=[0, 15470], anchor="y",
               tickmode="array", tickvals=X_TICKVALS, ticktext=X_TICKTEXT,
               ticks="outside", ticklen=3, tickwidth=1, tickcolor="#555",
               minor=dict(tickmode="linear", tick0=0, dtick=250, ticks="outside", ticklen=2, tickcolor="#777"),
               showline=True, linecolor="#666", linewidth=1.5, mirror=True,
               showgrid=False, zeroline=False, tickfont=TICKFONT),
    yaxis=dict(domain=[PY(1030.5), PY(577.0)], range=[0.5, 1.0], anchor="x",
               tickmode="array", tickvals=Y_TICKVALS, ticktext=Y_TICKTEXT,
               ticks="outside", ticklen=4, tickwidth=1, tickcolor="#555",
               showline=True, linecolor="#666", linewidth=1.5, mirror=True,
               showgrid=False, zeroline=False, tickfont=TICKFONT),
    annotations=annotations, shapes=shapes,
)

fig.write_html("out.html")
